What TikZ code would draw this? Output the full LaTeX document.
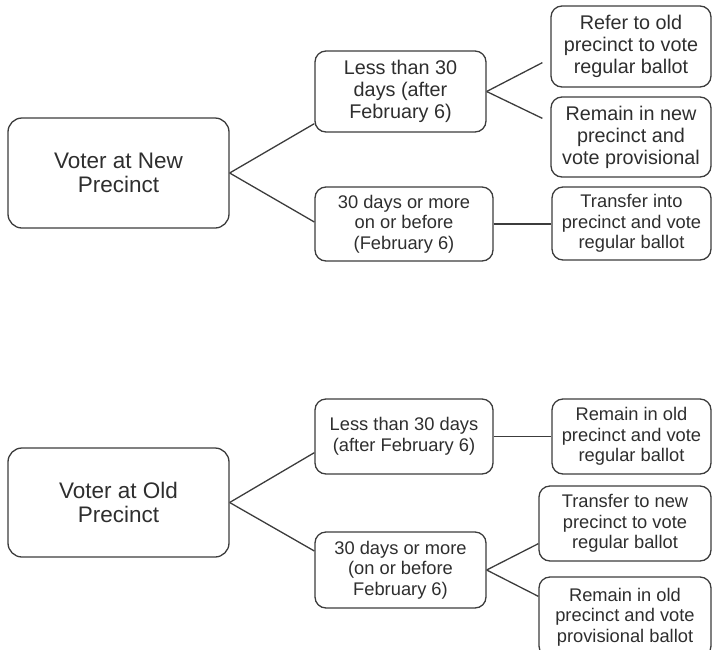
\documentclass[tikz,border=0pt]{standalone}
\usepackage{fontspec}
\setmainfont{Liberation Sans}
\usetikzlibrary{calc}
\definecolor{txt}{HTML}{2E2E2E}
\definecolor{edge}{HTML}{3C3C3C}
\tikzset{
  box/.style={draw=edge, line width=1.3pt, rounded corners=11pt, align=center,
    text=txt, inner sep=0pt, font=\fontsize{18.3}{20.7}\selectfont},
  boxl/.style={box, font=\fontsize{19.8}{22}\selectfont},
  bigbox/.style={box, rounded corners=14pt, font=\fontsize{22.5}{23.5}\selectfont},
  link/.style={draw=edge, line width=1.3pt}
}
\begin{document}
\begin{tikzpicture}[x=1pt,y=-1pt]
\useasboundingbox (0,0) rectangle (713,649);
% top group
\node[bigbox, minimum width=221pt, minimum height=110pt] (L1) at (118.5,173) {Voter at New\\Precinct};
\node[boxl, minimum width=171pt, minimum height=81pt] (M1) at (400.5,91.5) {Less than 30\\days (after\\February 6)};
\node[box, minimum width=178pt, minimum height=74pt] (M2) at (404,224) {30 days or more\\on or before\\(February 6)};
\node[boxl, minimum width=160pt, minimum height=81pt] (R1) at (631,46.5) {Refer to old\\precinct to vote\\regular ballot};
\node[boxl, minimum width=160pt, minimum height=80pt] (R2) at (631,137) {Remain in new\\precinct and\\vote provisional};
\node[box, minimum width=159pt, minimum height=73pt] (R3) at (631.5,223.5) {Transfer into\\precinct and vote\\regular ballot};
% bottom group
\node[bigbox, minimum width=221pt, minimum height=109pt] (L2) at (118.5,502.5) {Voter at Old\\Precinct};
\node[box, minimum width=178pt, minimum height=75pt] (M3) at (404,436.5) {Less than 30 days\\(after February 6)};
\node[box, minimum width=171pt, minimum height=76pt] (M4) at (400.5,570) {30 days or more\\(on or before\\February 6)};
\node[box, minimum width=159pt, minimum height=75pt] (R4) at (631.5,436.5) {Remain in old\\precinct and vote\\regular ballot};
\node[box, minimum width=172pt, minimum height=75pt] (R5) at (625,523.5) {Transfer to new\\precinct to vote\\regular ballot};
\node[box, minimum width=172pt, minimum height=80pt] (R6) at (625,617) {Remain in old\\precinct and vote\\provisional ballot};
% connectors top
\draw[link] (L1.east) -- ($(M1.south west)+(0,-9)$);
\draw[link] (L1.east) -- ($(M2.west)+(0,-2)$);
\draw[link] (M1.east) -- ($(R1.south west)+(-8,-25)$);
\draw[link] (M1.east) -- ($(R2.north west)+(-8,22)$);
\draw[link] (M2.east) -- (R3.west |- M2.east);
% connectors bottom
\draw[link] (L2.east) -- ($(M3.south west)+(0,-22)$);
\draw[link] (L2.east) -- ($(M4.west)+(0,-19)$);
\draw[link] (M3.east) -- (R4.west |- M3.east);
\draw[link] (M4.east) -- ($(R5.south west)+(0,-18)$);
\draw[link] (M4.east) -- ($(R6.north west)+(0,20)$);
\end{tikzpicture}
\end{document}
